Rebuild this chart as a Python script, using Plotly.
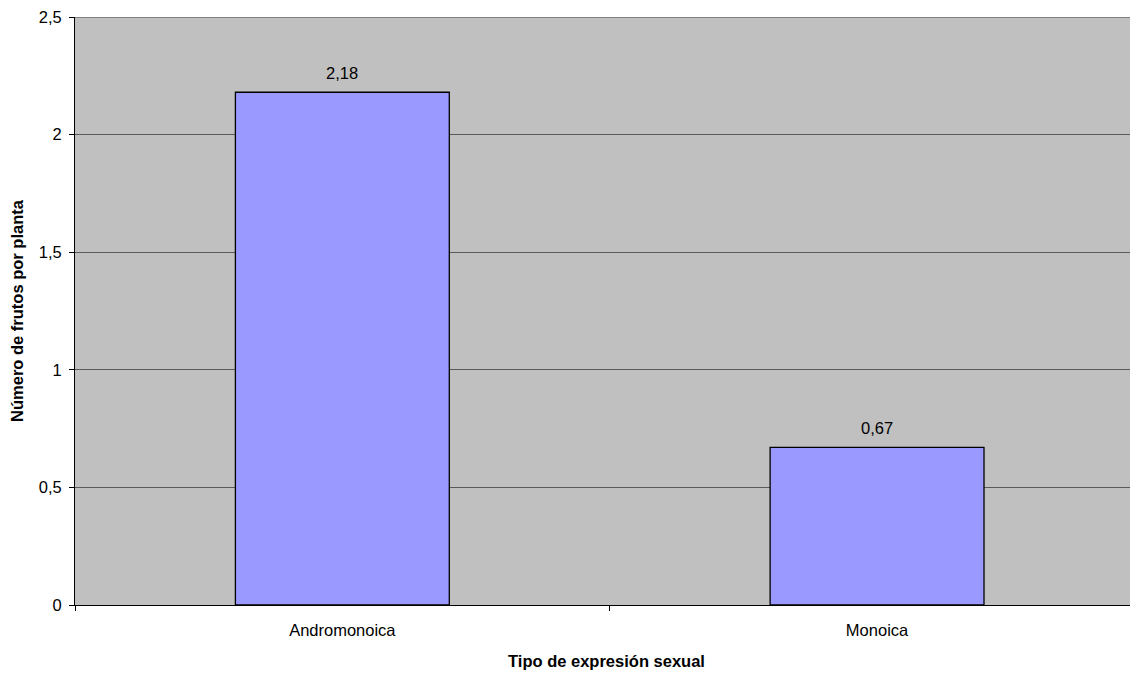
import plotly.graph_objects as go

categories = ["Andromonoica", "Monoica"]
values = [2.18, 0.67]
labels = ["2,18", "0,67"]
y_ticks = [0, 0.5, 1, 1.5, 2, 2.5]
y_ticktext = ["0", "0,5", "1", "1,5", "2", "2,5"]
y_max = 2.5

FONT = "Liberation Sans, Arial, sans-serif"
FS = 16.5

fig = go.Figure()
fig.add_trace(go.Bar(
    x=categories, y=values,
    marker=dict(color="#9999FF", line=dict(color="#000000", width=1.3)),
    width=0.4,
))
for c, v, t in zip(categories, values, labels):
    fig.add_annotation(x=c, y=v, text=t, showarrow=False, yanchor="bottom",
                       yshift=8, font=dict(family=FONT, size=FS, color="#000000"))

# top gridline (coincides with plot edge)
fig.add_shape(type="line", xref="paper", x0=0, x1=1, yref="y", y0=y_max, y1=y_max,
              line=dict(color="#808080", width=2), layer="above")

# body has an 8px margin in the page: figure sits at (8,8)
fig.update_layout(
    width=1130, height=665,
    margin=dict(l=67, r=0, t=7, b=68),
    paper_bgcolor="white", plot_bgcolor="#C0C0C0",
    font=dict(family=FONT, size=FS, color="#000000"),
    showlegend=False,
    separators=",.",
)
fig.update_xaxes(
    type="category", range=[-0.5, 1.488],
    showline=True, linecolor="#000000", linewidth=1,
    ticks="outside", tickson="boundaries", ticklen=5, tickcolor="#000000",
    showgrid=False, ticklabelstandoff=10,
    title=dict(text="<b>Tipo de expresión sexual</b>", font=dict(family=FONT, size=FS), standoff=17),
    tickfont=dict(family=FONT, size=FS),
)
fig.update_yaxes(
    range=[0, y_max], tickvals=y_ticks, ticktext=y_ticktext,
    showline=True, linecolor="#000000", linewidth=1,
    ticks="outside", ticklen=5, tickcolor="#000000",
    showgrid=True, gridcolor="#5a5a5a", gridwidth=1,
    zeroline=False, ticklabelstandoff=4, ticklabeloverflow="allow",
    title=dict(text="<b>Número de frutos por planta</b>", font=dict(family=FONT, size=FS), standoff=10),
    tickfont=dict(family=FONT, size=FS),
)

fig.write_html("out.html")
